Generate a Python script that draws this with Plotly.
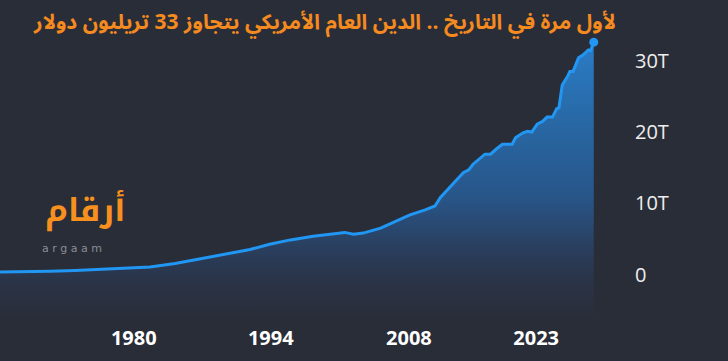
import plotly.graph_objects as go

# ---- data ----
years = [1968.6, 1970.9, 1973.2, 1975.5, 1977.8, 1980.1, 1982.4, 1984.7, 1987.0,
         1989.3, 1991.6, 1993.4, 1995.3, 1997.4, 1999.0, 2000.3, 2001.1, 2002.0,
         2003.6, 2004.9, 2006.3, 2007.7, 2008.6, 2009.1, 2010.2, 2011.2, 2011.7,
         2012.1, 2013.2, 2013.7, 2014.3, 2014.8, 2015.7, 2016.0, 2016.7, 2017.1,
         2017.5, 2018.0, 2018.5, 2018.9, 2019.4, 2019.8, 2020.0, 2020.3, 2020.8,
         2021.0, 2021.3, 2021.8, 2022.2, 2022.7, 2022.9, 2023.2]
debt_trillion = [0.40, 0.42, 0.50, 0.62, 0.78, 0.93, 1.10, 1.60, 2.25,
                 2.85, 3.55, 4.30, 4.90, 5.40, 5.70, 5.95, 5.70, 5.85,
                 6.55, 7.40, 8.40, 9.10, 9.65, 10.85, 12.6, 14.3, 14.7,
                 15.5, 16.9, 16.9, 17.7, 18.3, 18.3, 19.2, 19.9, 20.1,
                 20.0, 21.1, 21.5, 22.1, 22.1, 23.3, 23.4, 26.6, 27.8,
                 28.5, 28.5, 30.4, 30.8, 31.5, 31.4, 32.6]

x_tick_labels = ["1980", "1994", "2008", "2023"]
x_tick_pos = [1980.9, 1993.5, 2006.2, 2017.9]   # where the labels sit in the reference
y_tick_vals = [0, 10, 20, 30]
y_tick_labels = ["0", "10T", "20T", "30T"]

title_text = "لأول مرة في التاريخ .. الدين العام الأمريكي يتجاوز 33 تريليون دولار"

BG = "#292d38"
X_RANGE = [1968.6, 2026.9]
Y_RANGE = [-6.6, 34.3]

fig = go.Figure()

# baseline at bottom of the plot for the fill
fig.add_trace(go.Scatter(
    x=[years[0], years[-1]], y=[Y_RANGE[0], Y_RANGE[0]],
    mode="lines", line=dict(width=0, color=BG), hoverinfo="skip", showlegend=False))

fig.add_trace(go.Scatter(
    x=years, y=debt_trillion, mode="lines",
    line=dict(color="#2196f3", width=3),
    fill="tonexty",
    fillgradient=dict(
        type="vertical", start=Y_RANGE[0], stop=33,
        colorscale=[[0, BG], [0.12, "#2a3244"], [0.22, "#2a3a55"], [0.45, "#28568a"],
                    [0.72, "#2869a6"], [1, "#2a7dc8"]]),
    showlegend=False))

fig.add_trace(go.Scatter(
    x=[years[-1]], y=[debt_trillion[-1]], mode="markers",
    marker=dict(color="#2196f3", size=9), cliponaxis=False, showlegend=False))

fig.update_layout(
    width=728, height=361,
    margin=dict(l=0, r=94, t=30, b=39),
    paper_bgcolor=BG, plot_bgcolor=BG,
    title=dict(text="<b>" + title_text + "</b>", x=616 / 728, xanchor="right", xref="container",
               y=1 - 22 / 361, yanchor="middle", yref="container",
               font=dict(family="Noto Sans Arabic", size=21, color="#f58a1f")),
    xaxis=dict(range=X_RANGE, showgrid=False, zeroline=False, showline=False,
               tickmode="array", tickvals=x_tick_pos, ticktext=x_tick_labels,
               tickfont=dict(family="Open Sans", size=20, color="#ffffff", weight="bold"),
               ticks="", ticklabelstandoff=2),
    yaxis=dict(range=Y_RANGE, side="right", showgrid=False, zeroline=False, showline=False,
               tickmode="array", tickvals=y_tick_vals, ticktext=y_tick_labels,
               tickfont=dict(family="Open Sans", size=20, color="#eeeeee"),
               ticks=""),
    annotations=[
        dict(text="<b>أرقام</b>", xref="paper", yref="paper", x=85 / 634, y=1 - (210 - 30) / 292,
             xanchor="center", yanchor="middle", showarrow=False,
             font=dict(family="Noto Kufi Arabic", size=32, color="#f7901e")),
        dict(text="a r g a a m", xref="paper", yref="paper", x=72 / 634, y=1 - (248 - 30) / 292,
             xanchor="center", yanchor="middle", showarrow=False,
             font=dict(family="DejaVu Sans", size=11, color="#8a8d96")),
    ],
)

fig.write_html("out.html")
